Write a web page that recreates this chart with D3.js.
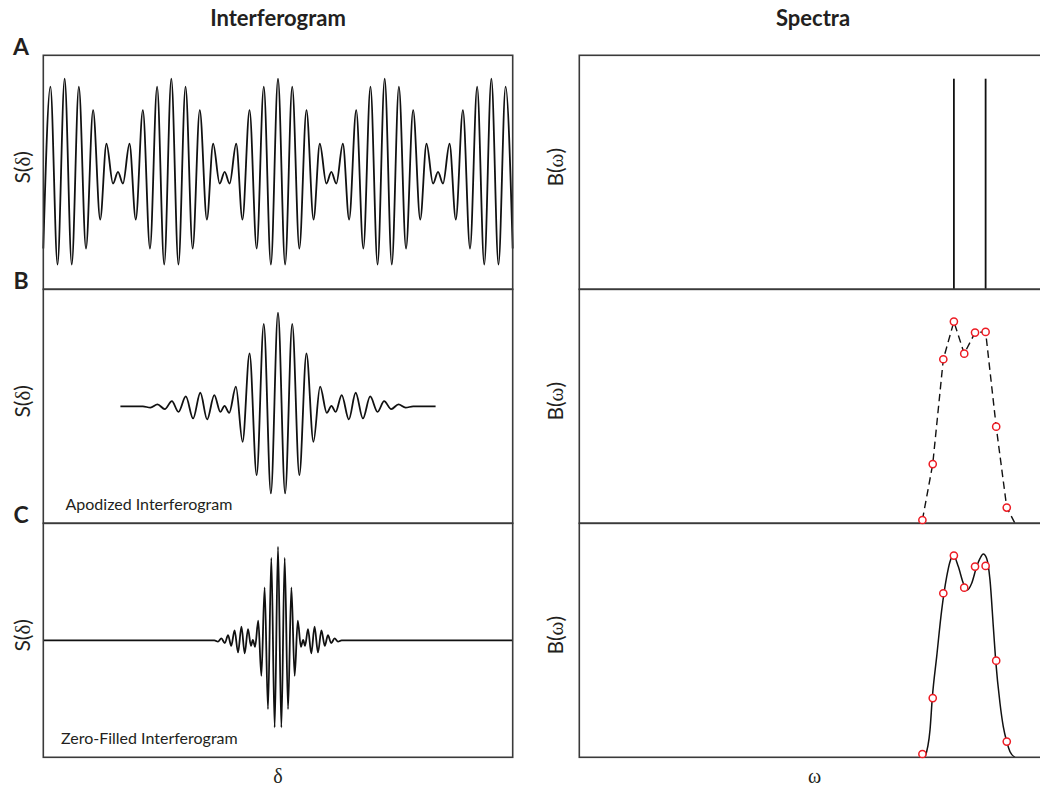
<!DOCTYPE html>
<html>
<head>
<meta charset="utf-8">
<title>Interferogram and Spectra</title>
<script src="https://cdn.jsdelivr.net/npm/d3@7"></script>
<style>
  body { margin: 0; background: #fff; }
  svg { display: block; font-family: Lato, "Open Sans", sans-serif; }
</style>
</head>
<body>
<div id="chart"></div>
<script>
// Panel A: interferogram of two lines (extrema)
const rawDelta = [-16.5, -16, -15.5, -15, -14.5, -14, -13.5, -13, -12.5, -12.06, -11.6, -11.25, -10.9, -10.44, -10, -9.5, -9, -8.5, -8, -7.5, -7, -6.5, -6, -5.5, -5, -4.56, -4.1, -3.75, -3.4, -2.94, -2.5, -2, -1.5, -1, -0.5, 0, 0.5, 1, 1.5, 2, 2.5, 2.94, 3.4, 3.75, 4.1, 4.56, 5, 5.5, 6, 6.5, 7, 7.5, 8, 8.5, 9, 9.5, 10, 10.44, 10.9, 11.25, 11.6, 12.06, 12.5, 13, 13.5, 14, 14.5, 15, 15.5, 16, 16.5];
const rawSignal = [-1.63, 1.83, -1.97, 2.0, -1.97, 1.83, -1.63, 1.33, -1.01, 0.61, -0.24, 0.01, -0.24, 0.61, -1.01, 1.33, -1.63, 1.83, -1.97, 2.0, -1.97, 1.83, -1.63, 1.33, -1.01, 0.61, -0.24, 0.01, -0.24, 0.61, -1.01, 1.33, -1.63, 1.83, -1.97, 2.0, -1.97, 1.83, -1.63, 1.33, -1.01, 0.61, -0.24, 0.01, -0.24, 0.61, -1.01, 1.33, -1.63, 1.83, -1.97, 2.0, -1.97, 1.83, -1.63, 1.33, -1.01, 0.61, -0.24, 0.01, -0.24, 0.61, -1.01, 1.33, -1.63, 1.83, -1.97, 2.0, -1.97, 1.83, -1.63];

// Panel B: apodized interferogram
const apodDelta = [-11.08, -9.5, -8.97, -8.47, -7.96, -7.46, -7.0, -6.48, -5.97, -5.46, -4.98, -4.48, -4.05, -3.76, -3.43, -2.96, -2.49, -2.0, -1.5, -1.0, -0.5, 0, 0.5, 1.0, 1.5, 2.0, 2.49, 2.96, 3.43, 3.76, 4.05, 4.48, 4.98, 5.46, 5.97, 6.48, 7.0, 7.46, 7.96, 8.47, 8.97, 9.5, 11.08];
const apodSignal = [0, 0, -0.03, 0.04, -0.06, 0.11, -0.12, 0.21, -0.26, 0.29, -0.28, 0.24, -0.12, 0.01, -0.14, 0.42, -0.76, 1.13, -1.47, 1.76, -1.86, 2.0, -1.86, 1.76, -1.47, 1.13, -0.76, 0.42, -0.14, 0.01, -0.12, 0.24, -0.28, 0.29, -0.26, 0.21, -0.12, 0.11, -0.06, 0.04, -0.03, 0, 0];

// Panel C: zero-filled interferogram
const zeroDelta = [-16.5, -4.47, -4.22, -3.98, -3.74, -3.51, -3.29, -3.05, -2.81, -2.57, -2.34, -2.11, -1.9, -1.77, -1.61, -1.39, -1.17, -0.94, -0.705, -0.47, -0.235, 0, 0.235, 0.47, 0.705, 0.94, 1.17, 1.39, 1.61, 1.77, 1.9, 2.11, 2.34, 2.57, 2.81, 3.05, 3.29, 3.51, 3.74, 3.98, 4.22, 4.47, 16.5];
const zeroSignal = [0, 0, -0.03, 0.04, -0.06, 0.11, -0.12, 0.21, -0.26, 0.29, -0.28, 0.24, -0.12, 0.01, -0.14, 0.42, -0.76, 1.13, -1.47, 1.76, -1.86, 2.0, -1.86, 1.76, -1.47, 1.13, -0.76, 0.42, -0.14, 0.01, -0.12, 0.24, -0.28, 0.29, -0.26, 0.21, -0.12, 0.11, -0.06, 0.04, -0.03, 0, 0];

// Spectra
const lineOmega = [79.7, 86.45];
const lineHeight = [0.9, 0.9];

const sampleOmega = [73.0, 75.2, 77.45, 79.7, 81.9, 84.2, 86.45, 88.7, 90.95];
const sampleB = [0.014, 0.253, 0.701, 0.862, 0.725, 0.815, 0.818, 0.413, 0.067];
const tailOmega = [92.7];
const tailB = [0];

const smoothOmega = [73.55, 74.62, 75.11, 76.04, 77.11, 78.17, 78.87, 79.57, 80.64, 81.7, 82.55, 83.49, 84.55, 85.26, 85.96, 86.68, 87.38, 88.09, 88.6, 89.51, 90.21, 90.94, 91.64, 92.7];
const smoothB = [0, 0.117, 0.255, 0.43, 0.63, 0.772, 0.836, 0.865, 0.815, 0.744, 0.715, 0.744, 0.815, 0.85, 0.869, 0.85, 0.758, 0.558, 0.412, 0.231, 0.131, 0.067, 0.024, 0];

const panelLetters = ["A", "B", "C"];
const panelNotes = ["", "Apodized Interferogram", "Zero-Filled Interferogram"];
const noteX = [0, 65.5, 61];

const width = 1040, height = 787;
const panelTop = 55.3, panelHeight = 234;
const leftCol = { x0: 43.3, x1: 512.7 };
const rightCol = { x0: 579.3, x1: 1049.3 };
const ink = "#231f20";
const red = "#ed1c24";

const svg = d3.select("#chart").append("svg")
  .attr("width", width)
  .attr("height", height);

svg.append("rect").attr("width", width).attr("height", height).attr("fill", "#fff");

const x = d3.scaleLinear().domain([-16.5, 16.5]).range([leftCol.x0, leftCol.x1]);
const w = d3.scaleLinear().domain([0, 100]).range([rightCol.x0, rightCol.x1]);

const rows = [0, 1, 2].map((i) => {
  const top = panelTop + i * panelHeight;
  return {
    top,
    bottom: top + panelHeight,
    yS: d3.scaleLinear().domain([-2.5, 2.5]).range([top + panelHeight, top]),
    yB: d3.scaleLinear().domain([0, 1]).range([top + panelHeight, top]),
  };
});

const zip = (a, b) => a.map((v, i) => [v, b[i]]);
const interferograms = [
  zip(rawDelta, rawSignal),
  zip(apodDelta, apodSignal),
  zip(zeroDelta, zeroSignal),
];

// left column: interferograms
rows.forEach((row, i) => {
  const line = d3.line()
    .x((d) => x(d[0]))
    .y((d) => row.yS(d[1]))
    .curve(d3.curveMonotoneX);

  svg.append("path")
    .datum(interferograms[i])
    .attr("d", line)
    .attr("fill", "none")
    .attr("stroke", "#111")
    .attr("stroke-width", 1.8)
    .attr("stroke-linejoin", "round");
});

// right column: spectra
const rowA = rows[0], rowB = rows[1], rowC = rows[2];

svg.append("g")
  .selectAll("line")
  .data(zip(lineOmega, lineHeight))
  .join("line")
  .attr("x1", (d) => w(d[0]))
  .attr("x2", (d) => w(d[0]))
  .attr("y1", rowA.yB(0))
  .attr("y2", (d) => rowA.yB(d[1]))
  .attr("stroke", "#111")
  .attr("stroke-width", 1.8);

const samples = zip(sampleOmega, sampleB);

svg.append("path")
  .datum(samples.concat(zip(tailOmega, tailB)))
  .attr("d", d3.line().x((d) => w(d[0])).y((d) => rowB.yB(d[1])))
  .attr("fill", "none")
  .attr("stroke", "#111")
  .attr("stroke-width", 1.4)
  .attr("stroke-dasharray", "7.5,4.5");

svg.append("path")
  .datum(zip(smoothOmega, smoothB))
  .attr("d", d3.line().x((d) => w(d[0])).y((d) => rowC.yB(d[1])).curve(d3.curveMonotoneX))
  .attr("fill", "none")
  .attr("stroke", "#111")
  .attr("stroke-width", 1.5);

// panel frames
rows.forEach((row) => {
  [leftCol, rightCol].forEach((col) => {
    svg.append("rect")
      .attr("x", col.x0)
      .attr("y", row.top)
      .attr("width", col.x1 - col.x0)
      .attr("height", panelHeight)
      .attr("fill", "none")
      .attr("stroke", "#3a3a3a")
      .attr("stroke-width", 1.6);
  });
});

// sample markers on top of frames
[rowB, rowC].forEach((row) => {
  svg.append("g")
    .selectAll("circle")
    .data(samples)
    .join("circle")
    .attr("cx", (d) => w(d[0]))
    .attr("cy", (d) => row.yB(d[1]))
    .attr("r", 3.6)
    .attr("fill", "#fff")
    .attr("stroke", red)
    .attr("stroke-width", 1.5);
});

// text
svg.append("text")
  .attr("x", (leftCol.x0 + leftCol.x1) / 2)
  .attr("y", 26)
  .attr("text-anchor", "middle")
  .attr("font-weight", "bold")
  .attr("font-size", 22)
  .attr("fill", ink)
  .text("Interferogram");

svg.append("text")
  .attr("x", 813)
  .attr("y", 26)
  .attr("text-anchor", "middle")
  .attr("font-weight", "bold")
  .attr("font-size", 22)
  .attr("fill", ink)
  .text("Spectra");

rows.forEach((row, i) => {
  svg.append("text")
    .attr("x", 21)
    .attr("y", row.top - 0.5)
    .attr("text-anchor", "middle")
    .attr("font-weight", "bold")
    .attr("font-size", 23)
    .attr("fill", ink)
    .text(panelLetters[i]);

  const cy = (row.top + row.bottom) / 2 - 5;

  const sLabel = svg.append("text")
    .attr("transform", `translate(22.5,${cy}) rotate(-90)`)
    .attr("text-anchor", "middle")
    .attr("dy", "0.35em")
    .attr("font-size", 21)
    .attr("fill", ink);
  sLabel.append("tspan").text("S(");
  sLabel.append("tspan").attr("font-family", "'Liberation Serif', serif").text("δ");
  sLabel.append("tspan").text(")");

  const bLabel = svg.append("text")
    .attr("transform", `translate(555.5,${cy}) rotate(-90)`)
    .attr("text-anchor", "middle")
    .attr("dy", "0.35em")
    .attr("font-size", 21)
    .attr("fill", ink);
  bLabel.append("tspan").text("B(");
  bLabel.append("tspan").attr("font-family", "'Liberation Serif', serif").text("ω");
  bLabel.append("tspan").text(")");

  if (panelNotes[i]) {
    svg.append("text")
      .attr("x", noteX[i])
      .attr("y", row.bottom - 13.5)
      .attr("font-size", 16)
      .attr("fill", ink)
      .text(panelNotes[i]);
  }
});

svg.append("text")
  .attr("x", (leftCol.x0 + leftCol.x1) / 2)
  .attr("y", 783)
  .attr("text-anchor", "middle")
  .attr("font-family", "'Liberation Serif', serif")
  .attr("font-size", 20)
  .attr("fill", ink)
  .text("δ");

svg.append("text")
  .attr("x", 814.5)
  .attr("y", 783)
  .attr("text-anchor", "middle")
  .attr("font-family", "'Liberation Serif', serif")
  .attr("font-size", 20)
  .attr("fill", ink)
  .text("ω");
</script>
</body>
</html>
